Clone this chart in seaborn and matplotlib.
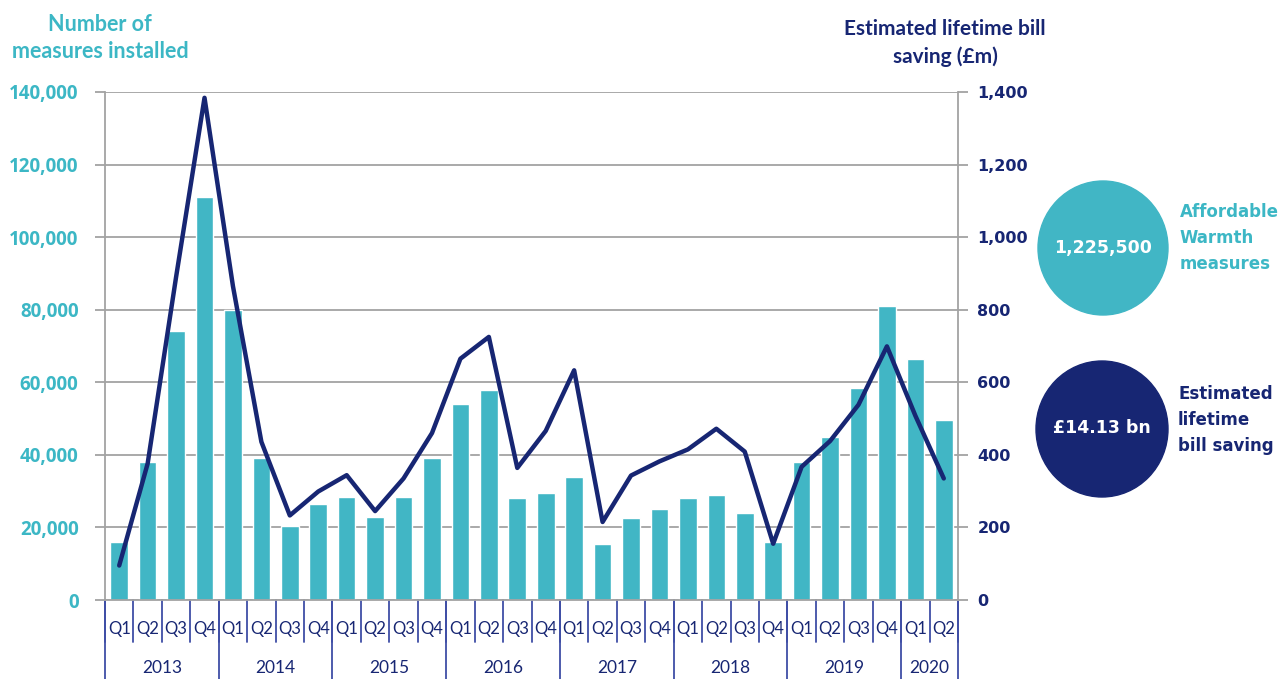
import numpy as np
import pandas as pd
import matplotlib
matplotlib.use('Agg')
import matplotlib.pyplot as plt
import matplotlib.transforms as mtransforms
from matplotlib.patches import Ellipse
import seaborn as sns

# Chart data
years = ['2013', '2014', '2015', '2016', '2017', '2018', '2019', '2020']
quarters_per_year = [4, 4, 4, 4, 4, 4, 4, 2]
quarter_names = ['Q1', 'Q2', 'Q3', 'Q4']

measures = [16000, 38000, 74000, 111000,
            80000, 39000, 20500, 26500,
            28500, 23000, 28500, 39000,
            54000, 58000, 28000, 29500,
            34000, 15500, 22500, 25000,
            28000, 29000, 24000, 16000,
            38000, 45000, 58500, 81000,
            66500, 49500]

savings = [95, 376, 890, 1384,
           865, 436, 233, 299,
           344, 245, 335, 460,
           665, 725, 364, 466,
           633, 215, 343, 382,
           415, 472, 409, 155,
           367, 438, 538, 699,
           508, 335]

total_measures = '1,225,500'
total_saving = '£14.13 bn'

# Colours
TEAL = '#41b6c5'
TEAL_TXT = '#3cb7c5'
NAVY = '#172673'
SEP = '#3f4ea6'
GRID = '#a3a3a3'

# Build table
q_labels, y_labels = [], []
for yr, n in zip(years, quarters_per_year):
    q_labels += quarter_names[:n]
    y_labels += [yr] * n
df = pd.DataFrame({'quarter': [f'{y} {q}' for y, q in zip(y_labels, q_labels)],
                   'measures': measures, 'savings': savings})
df['pos'] = np.arange(len(df))

sns.set_style('white')
plt.rcParams['font.family'] = ['Lato', 'DejaVu Sans']

fig = plt.figure(figsize=(12.83, 6.79), dpi=100)
ax = fig.add_axes([105 / 1283, 79 / 679, 853 / 1283, 508 / 679])

sns.barplot(data=df, x='quarter', y='measures', color=TEAL, width=0.62,
            saturation=1, ax=ax)
ax.set_xlim(-0.5, len(df) - 0.5)
ax.set_ylim(0, 140000)
ax.set_xlabel('')
ax.set_ylabel('')
ax.set_xticks([])
ax.set_axisbelow(True)
ax.yaxis.grid(True, color=GRID, lw=1.3)
for side in ['left', 'right', 'bottom']:
    ax.spines[side].set_color(GRID)
    ax.spines[side].set_linewidth(1.3)
ax.spines['top'].set_visible(False)

ax2 = ax.twinx()
sns.lineplot(data=df, x='pos', y='savings', color=NAVY, lw=3.2, ax=ax2)
ax2.set_ylim(0, 1400)
ax2.set_xlabel('')
ax2.set_ylabel('')
for s in ax2.spines.values():
    s.set_visible(False)
for ln in ax2.lines:
    ln.set_clip_on(False)

# Tick labels on both sides, set after the twin is made
ax.set_yticks(np.arange(0, 140001, 20000))
ax.set_yticklabels([f'{v:,}' for v in range(0, 140001, 20000)])
ax.tick_params(axis='y', which='both', left=True, length=7, width=1.3,
               color=GRID, pad=12, labelsize=13.5, labelcolor=TEAL_TXT)
ax2.set_yticks(np.arange(0, 1401, 200))
ax2.set_yticklabels([f'{v:,}' for v in range(0, 1401, 200)])
ax2.tick_params(axis='y', right=True, length=7, width=1.3, color=GRID,
                pad=7, labelsize=11.5, labelcolor=NAVY)

# Two-level category axis below the plot
trans = mtransforms.blended_transform_factory(ax.transData, ax.transAxes)
for i in range(len(df) + 1):
    ax.plot([i - 0.5, i - 0.5], [0, -42 / 508], color=SEP, lw=1.3,
            transform=trans, clip_on=False)
for i, q in enumerate(q_labels):
    ax.text(i, -29 / 508, q, transform=trans, ha='center', va='center',
            fontsize=12, color=NAVY)
start = 0
for yr, n in zip(years, quarters_per_year):
    ax.plot([start - 0.5, start - 0.5], [0, -0.16], color=SEP, lw=1.3,
            transform=trans, clip_on=False)
    ax.text(start + (n - 1) / 2, -68 / 508, yr, transform=trans,
            ha='center', va='center', fontsize=12.5, color=NAVY)
    start += n
ax.plot([start - 0.5, start - 0.5], [0, -0.16], color=SEP, lw=1.3,
        transform=trans, clip_on=False)

# Axis titles
fig.text(100 / 1283, 1 - 38 / 679, 'Number of\nmeasures installed',
         ha='center', va='center', fontsize=15.5, fontweight='bold',
         color=TEAL_TXT, linespacing=1.4)
fig.text(945 / 1283, 1 - 43 / 679, 'Estimated lifetime bill\nsaving (£m)',
         ha='center', va='center', fontsize=15, fontweight='bold',
         color=NAVY, linespacing=1.45)

# Summary circles
fig.add_artist(Ellipse((1103 / 1283, 1 - 248 / 679), 130 / 1283, 134 / 679,
                       transform=fig.transFigure, color=TEAL))
fig.add_artist(Ellipse((1102 / 1283, 1 - 429 / 679), 132 / 1283, 136 / 679,
                       transform=fig.transFigure, color=NAVY))
fig.text(1103 / 1283, 1 - 248 / 679, total_measures, ha='center',
         va='center', fontsize=12.5, fontweight='bold', color='white',
         family='DejaVu Sans')
fig.text(1102 / 1283, 1 - 428 / 679, total_saving, ha='center',
         va='center', fontsize=12.5, fontweight='bold', color='white',
         family='DejaVu Sans')
fig.text(1180 / 1283, 1 - 238 / 679, 'Affordable\nWarmth\nmeasures',
         ha='left', va='center', fontsize=12, fontweight='bold',
         color=TEAL_TXT, family='DejaVu Sans', linespacing=1.55)
fig.text(1178 / 1283, 1 - 420 / 679, 'Estimated\nlifetime\nbill saving',
         ha='left', va='center', fontsize=12, fontweight='bold',
         color=NAVY, family='DejaVu Sans', linespacing=1.55)

# make the tick label fonts bold once the ticks exist
fig.canvas.draw()
for lab in ax.get_yticklabels():
    lab.set_fontweight('bold')
    lab.set_family('Open Sans')
for lab in ax2.get_yticklabels():
    lab.set_fontweight('bold')
    lab.set_family('DejaVu Sans')

fig.savefig('out.png', dpi=100)
